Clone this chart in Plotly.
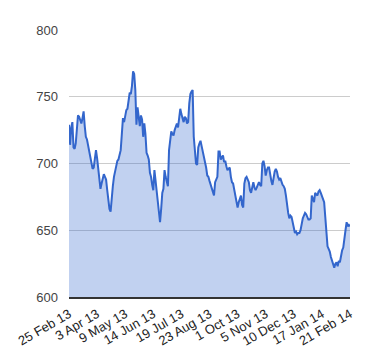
import plotly.graph_objects as go

tick_labels = ["25 Feb 13", "3 Apr 13", "9 May 13", "14 Jun 13", "19 Jul 13", "23 Aug 13",
               "1 Oct 13", "5 Nov 13", "10 Dec 13", "17 Jan 14", "21 Feb 14"]
tick_positions = [0, 25, 50, 75, 100, 125, 150, 175, 200, 225, 250]

values = [
    729, 714, 727, 731, 712, 711, 715, 726, 736, 735,
    733, 730, 734, 739, 728, 720, 718, 713, 709, 704,
    699, 696, 697, 703, 710, 704, 697, 686, 681, 685,
    689, 692, 690, 688, 680, 673, 666, 664, 676, 683,
    690, 695, 699, 702, 703, 706, 710, 722, 734, 731,
    737, 740, 741, 749, 753, 752, 758, 769, 767, 755,
    729, 742, 735, 728, 736, 733, 720, 730, 722, 708,
    706, 703, 693, 690, 684, 680, 695, 688, 680, 672,
    664, 656, 666, 678, 681, 695, 690, 686, 683, 710,
    716, 724, 722, 721, 725, 728, 730, 727, 733, 741,
    737, 733, 731, 735, 734, 730, 731, 745, 752, 754,
    755, 720, 708, 700, 699, 712, 715, 717, 713, 709,
    706, 703, 697, 691, 690, 687, 684, 682, 678, 676,
    686, 688, 690, 709, 709, 703, 705, 706, 701, 702,
    698, 695, 696, 697, 690, 686, 685, 680, 674, 670,
    667, 671, 674, 676, 669, 667, 685, 689, 690, 688,
    686, 680, 678, 682, 686, 682, 680, 682, 684, 686,
    684, 683, 700, 702, 698, 691, 695, 697, 697, 690,
    687, 684, 690, 694, 696, 694, 690, 688, 689, 686,
    684, 683, 681, 676, 667, 663, 659, 661, 660, 655,
    652, 648, 649, 647, 648, 648, 650, 656, 659, 661,
    663, 662, 660, 658, 658, 659, 676, 674, 671, 678,
    677, 676, 679, 680, 678, 676, 674, 671, 660, 649,
    638, 636, 634, 630, 627, 624, 622, 625, 626, 623,
    627, 626, 631, 635, 637, 642, 650, 656, 653, 654,
    653,
]
x_index = list(range(len(values)))

y_ticks = [600, 650, 700, 750, 800]

fig = go.Figure()
fig.add_trace(go.Scatter(
    x=x_index, y=values, mode="lines",
    line=dict(color="#3366cc", width=2),
    fill="tozeroy", fillcolor="rgba(51,102,204,0.3)",
    hoverinfo="skip",
))

fig.update_layout(
    width=380, height=360,
    margin=dict(l=61, r=38, t=22, b=71),
    paper_bgcolor="white", plot_bgcolor="white",
    showlegend=False,
    font=dict(family="Liberation Sans, Arial, sans-serif", size=13, color="#222222"),
    xaxis=dict(
        range=[0, 250], tickvals=tick_positions, ticktext=tick_labels,
        tickangle=-30, showgrid=False, zeroline=False, automargin=False,
        showline=True, linecolor="#333333", linewidth=1.5,
        ticks="", ticklabelstandoff=3, tickfont=dict(size=13, color="#222222"),
    ),
    yaxis=dict(
        range=[600, 800], tickvals=y_ticks, showgrid=True, gridcolor="#cccccc",
        gridwidth=1, zeroline=False, showline=False, ticks="", automargin=False,
        ticklabelstandoff=10, tickfont=dict(size=13, color="#444444"),
    ),
)

fig.write_html("out.html")
